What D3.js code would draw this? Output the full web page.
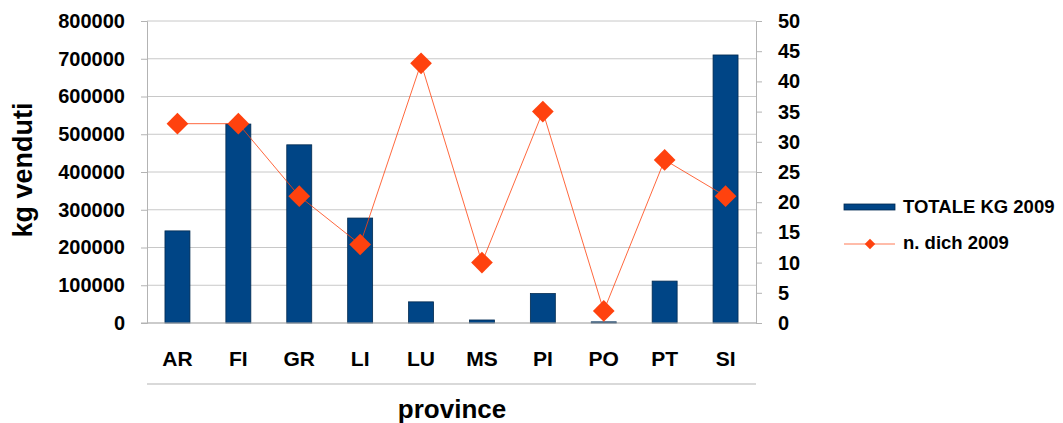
<!DOCTYPE html>
<html lang="en">
<head>
<meta charset="UTF-8">
<title>kg venduti per provincia</title>
<script src="https://d3js.org/d3.v7.min.js"></script>
<style>
  body { margin: 0; padding: 0; background: #fff; }
  text { font-family: 'Liberation Sans', Arial, sans-serif; font-weight: bold; fill: #000; }
</style>
</head>
<body>
<svg id="chart" width="1063" height="423"></svg>
<script>
const province = ["AR", "FI", "GR", "LI", "LU", "MS", "PI", "PO", "PT", "SI"];
const totaleKg2009 = [244000, 527000, 472000, 278000, 56000, 8000, 78000, 3000, 111000, 710000];
const nDich2009 = [33, 33, 21, 13, 43, 10, 35, 2, 27, 21];
const leftTicks = [0, 100000, 200000, 300000, 400000, 500000, 600000, 700000, 800000];
const rightTicks = [0, 5, 10, 15, 20, 25, 30, 35, 40, 45, 50];

const svg = d3.select("#chart");
const plotL = 147, plotR = 756, plotT = 21, plotB = 323;
const barColor = "#004586", lineColor = "#ff420e";

const x = d3.scaleBand().domain(province).range([plotL, plotR]).paddingInner(0.59).paddingOuter(0.295);
const xc = d3.scaleBand().domain(province).range([plotL, plotR]);
const yL = d3.scaleLinear().domain([0, 800000]).range([plotB, plotT]);
const yR = d3.scaleLinear().domain([0, 50]).range([plotB, plotT]);

// grid
svg.append("g").selectAll("line").data(leftTicks).enter().append("line")
  .attr("x1", plotL).attr("x2", plotR)
  .attr("y1", d => yL(d)).attr("y2", d => yL(d))
  .attr("stroke", "#c8c8c8").attr("stroke-width", 1);

// left axis
const gl = svg.append("g").attr("transform", "translate(" + plotL + ",0)")
  .call(d3.axisLeft(yL).tickValues(leftTicks).tickSize(6).tickPadding(16).tickFormat(d => d));
gl.selectAll("path, line").attr("stroke", "#b3b3b3");
gl.selectAll("text").style("font-size", "20px").attr("font-family", null).attr("fill", "#000");

// right axis
const gr = svg.append("g").attr("transform", "translate(" + plotR + ",0)")
  .call(d3.axisRight(yR).tickValues(rightTicks).tickSize(6).tickPadding(16));
gr.selectAll("path, line").attr("stroke", "#b3b3b3");
gr.selectAll("text").style("font-size", "20px").attr("font-family", null).attr("fill", "#000");

// bars
svg.append("g").selectAll("rect").data(totaleKg2009).enter().append("rect")
  .attr("x", (d, i) => x(province[i]))
  .attr("y", d => yL(d))
  .attr("width", x.bandwidth())
  .attr("height", d => plotB - yL(d))
  .attr("fill", barColor)
  .attr("stroke", "#002a50").attr("stroke-width", 0.8);

// bottom axis line
svg.append("line").attr("x1", plotL - 6).attr("x2", plotR)
  .attr("y1", plotB).attr("y2", plotB).attr("stroke", "#b3b3b3");

// category labels
svg.append("g").selectAll("text").data(province).enter().append("text")
  .attr("x", d => xc(d) + xc.bandwidth() / 2)
  .attr("y", 366).attr("text-anchor", "middle")
  .style("font-size", "21px").text(d => d);

svg.append("line").attr("x1", plotL).attr("x2", plotR)
  .attr("y1", 384).attr("y2", 384).attr("stroke", "#b3b3b3");

// line series
const line = d3.line().x((d, i) => xc(province[i]) + xc.bandwidth() / 2).y(d => yR(d));
svg.append("path").datum(nDich2009).attr("d", line)
  .attr("fill", "none").attr("stroke", lineColor).attr("stroke-width", 1).attr("opacity", 0.8);

const diamond = d3.symbol().type(d3.symbolDiamond2).size(300);
svg.append("g").selectAll("path").data(nDich2009).enter().append("path")
  .attr("d", diamond)
  .attr("transform", (d, i) => "translate(" + (xc(province[i]) + xc.bandwidth() / 2) + "," + yR(d) + ")")
  .attr("fill", lineColor);

// axis titles
svg.append("text").attr("transform", "translate(32,170)rotate(-90)")
  .attr("text-anchor", "middle").style("font-size", "27px").text("kg venduti");
svg.append("text").attr("x", 452).attr("y", 418)
  .attr("text-anchor", "middle").style("font-size", "26px").text("province");

// legend
svg.append("rect").attr("x", 844).attr("y", 204).attr("width", 51).attr("height", 6)
  .attr("fill", barColor).attr("stroke", "#002a50").attr("stroke-width", 0.8);
svg.append("text").attr("x", 903).attr("y", 213).style("font-size", "18.5px").text("TOTALE KG 2009");
svg.append("line").attr("x1", 844).attr("x2", 895).attr("y1", 244).attr("y2", 244)
  .attr("stroke", lineColor).attr("opacity", 0.7);
svg.append("path").attr("d", d3.symbol().type(d3.symbolDiamond2).size(70))
  .attr("transform", "translate(870,244)").attr("fill", lineColor);
svg.append("text").attr("x", 903).attr("y", 249).style("font-size", "18.5px").text("n. dich 2009");
</script>
</body>
</html>
